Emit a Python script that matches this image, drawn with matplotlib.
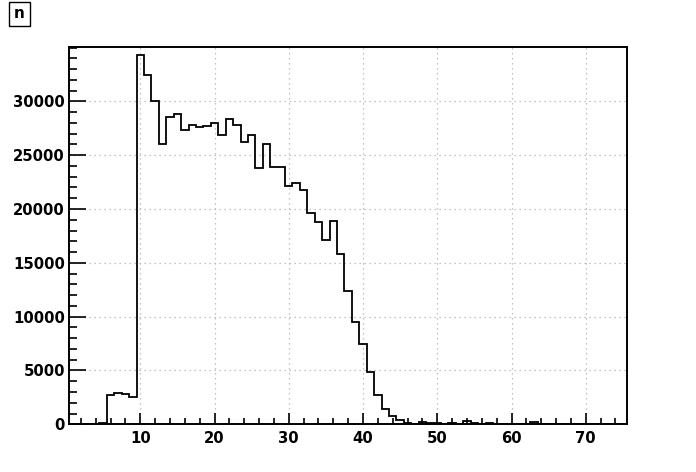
import matplotlib

matplotlib.use("Agg")
import matplotlib.pyplot as plt
import numpy as np
from matplotlib.ticker import MultipleLocator

# bin centres 1..75, unit width
bin_centres = np.arange(1, 76)
counts = [
    0, 0, 0, 0, 120, 2720, 2880, 2790, 2510, 34270,
    32440, 30000, 26000, 28510, 28790, 27310, 27830, 27580, 27740, 27960,
    26840, 28330, 27770, 26190, 26840, 23800, 26000, 23900, 23900, 22130,
    22380, 21760, 19600, 18760, 17120, 18880, 15790, 12350, 9470, 7430,
    4830, 2690, 1390, 770, 370, 100, 20, 200, 80, 80,
    20, 80, 20, 280, 80, 20, 80, 10, 10, 10,
    10, 10, 180, 0, 0, 0, 0, 0, 0, 0,
    0, 0, 0, 0, 0,
]
x_ticks = [10, 20, 30, 40, 50, 60, 70]
y_ticks = [0, 5000, 10000, 15000, 20000, 25000, 30000]
title = "n"

W, H = 696, 472
fig = plt.figure(figsize=(W / 100, H / 100), dpi=100)
ax = fig.add_axes([69 / W, (H - 424.3) / H, (627 - 69) / W, (424.3 - 47) / H])

edges = np.append(bin_centres - 0.5, bin_centres[-1] + 0.5)
ax.stairs(counts, edges, color="black", linewidth=1.3, baseline=0)

ax.set_xlim(0.4, 75.55)
ax.set_ylim(0, 35050)
ax.set_xticks(x_ticks)
ax.set_yticks(y_ticks)
ax.xaxis.set_minor_locator(MultipleLocator(2))
ax.yaxis.set_minor_locator(MultipleLocator(1000))

lab_font = dict(family="DejaVu Sans", weight="bold", size=10.7)
ax.set_xticklabels([str(v) for v in x_ticks], **lab_font)
ax.set_yticklabels([str(v) for v in y_ticks], **lab_font)

ax.tick_params(axis="x", which="major", direction="in", length=8, width=1.2, pad=4.5)
ax.tick_params(axis="x", which="minor", direction="in", length=4, width=1.2)
ax.tick_params(axis="y", which="major", direction="in", length=12.5, width=1.2, pad=3)
ax.tick_params(axis="y", which="minor", direction="in", length=6, width=1.2)

ax.grid(True, which="major", linestyle=(0, (1, 3)), color="#b0b0b0", linewidth=0.9)
ax.set_axisbelow(True)
for s in ax.spines.values():
    s.set_linewidth(1.4)

fig.text(19.5 / W, 1 - 14 / H, title, ha="center", va="center",
         family="DejaVu Sans", weight="bold", size=11,
         bbox=dict(boxstyle="square,pad=0.3", facecolor="white", edgecolor="black", linewidth=1))

fig.savefig("out.png", dpi=100)
